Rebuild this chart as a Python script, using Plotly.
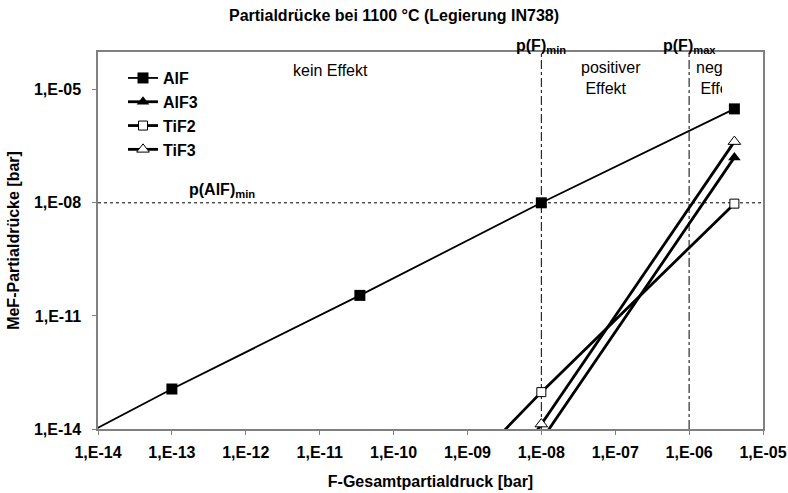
import numpy as np
import plotly.graph_objects as go

# ---------------- data ----------------
x_points = [1e-15, 1.0e-13, 3.5e-11, 1.0e-08, 4.1e-06]
alf = [1e-15, 1.15e-13, 3.5e-11, 1.0e-08, 3.1e-06]

x_ti = [3.5e-11, 1.0e-08, 4.1e-06]
alf3 = [5e-22, 5.0e-15, 1.6e-07]
tif2 = [1e-18, 9.5e-14, 9.5e-09]
tif3 = [1.2e-21, 1.35e-14, 4.2e-07]

x_tick_vals = [1e-14, 1e-13, 1e-12, 1e-11, 1e-10, 1e-09, 1e-08, 1e-07, 1e-06, 1e-05]
x_tick_text = ["1,E-14", "1,E-13", "1,E-12", "1,E-11", "1,E-10", "1,E-09",
               "1,E-08", "1,E-07", "1,E-06", "1,E-05"]
y_tick_vals = [1e-14, 1e-11, 1e-08, 1e-05]
y_tick_text = ["1,E-14", "1,E-11", "1,E-08", "1,E-05"]

p_F_min = 1e-08
p_F_max = 1e-06
p_AlF_min = 1e-08
x_min, x_max = 1e-14, 1e-05
y_min, y_max = 1e-14, 1e-04

FONT = "Liberation Sans, Arial, sans-serif"
FS = 16

fig = go.Figure()

# reference lines
fig.add_trace(go.Scatter(x=[x_min, x_max], y=[p_AlF_min, p_AlF_min], mode="lines",
                         line=dict(color="black", width=1, dash="dot"),
                         showlegend=False, hoverinfo="skip"))
for xv in (p_F_min, p_F_max):
    fig.add_trace(go.Scatter(x=[xv, xv], y=[y_min, y_max], mode="lines",
                             line=dict(color="black", width=1, dash="dashdot"),
                             showlegend=False, hoverinfo="skip"))

# series
fig.add_trace(go.Scatter(x=x_points, y=alf, name="AlF", mode="lines+markers",
                         line=dict(color="black", width=1.8),
                         marker=dict(symbol="square", size=11, color="black")))
fig.add_trace(go.Scatter(x=x_ti, y=alf3, name="AlF3", mode="lines+markers",
                         line=dict(color="black", width=2.8),
                         marker=dict(symbol="triangle-up", size=11, color="black")))
fig.add_trace(go.Scatter(x=x_ti, y=tif2, name="TiF2", mode="lines+markers",
                         line=dict(color="black", width=2.8),
                         marker=dict(symbol="square", size=9, color="white",
                                     line=dict(color="black", width=1))))
fig.add_trace(go.Scatter(x=x_ti, y=tif3, name="TiF3", mode="lines+markers",
                         line=dict(color="black", width=2.8),
                         marker=dict(symbol="triangle-up", size=11, color="white",
                                     line=dict(color="black", width=1))))

lg = np.log10
annotations = [
    dict(x=lg(p_F_min), y=1.0, yref="paper", xref="x", text="<b>p(F)<sub>min</sub></b>",
         showarrow=False, yanchor="bottom", yshift=-6,
         font=dict(family=FONT, size=FS, color="black")),
    dict(x=lg(p_F_max), y=1.0, yref="paper", xref="x", text="<b>p(F)<sub>max</sub></b>",
         showarrow=False, yanchor="bottom", yshift=-6,
         font=dict(family=FONT, size=FS, color="black")),
    dict(x=-10.86, y=-4.48, xref="x", yref="y", text="kein Effekt",
         showarrow=False, font=dict(family=FONT, size=FS, color="black")),
    dict(x=-7.49, y=-4.69, xref="x", yref="y", text="positiver<br> Effekt",
         showarrow=False, xanchor="left", align="left",
         font=dict(family=FONT, size=FS, color="black")),
    # text box of this label is cut off in the original chart
    dict(x=-5.93, y=-4.69, xref="x", yref="y", text="negativer<br> Effekt",
         showarrow=False, xanchor="left", align="left", width=26,
         font=dict(family=FONT, size=FS, color="black")),
    dict(x=-12.8, y=lg(p_AlF_min), xref="x", yref="y",
         text="<b>p(AlF)<sub>min</sub></b>", showarrow=False, yanchor="bottom",
         xanchor="left", yshift=1, font=dict(family=FONT, size=FS, color="black")),
]

axis_common = dict(
    type="log", showgrid=False, zeroline=False, automargin=False,
    showline=True, linecolor="#808080", linewidth=1.5, mirror=True,
    ticks="outside", ticklen=4, tickcolor="#808080",
)

fig.update_layout(
    width=788, height=493,
    margin=dict(l=98, r=25, t=52, b=64, autoexpand=False),
    paper_bgcolor="white", plot_bgcolor="white",
    title=dict(text="<b>Partialdrücke bei 1100 °C (Legierung IN738)</b>",
               x=0.5, xanchor="center", y=1 - 15 / 493, yanchor="middle",
               font=dict(family=FONT, size=FS, color="black")),
    xaxis=dict(axis_common, range=[lg(x_min), lg(x_max)],
               tickvals=x_tick_vals, ticktext=x_tick_text, ticklabelstandoff=4,
               tickfont=dict(family=FONT, size=FS, color="black", weight="bold"),
               title=dict(text="<b>F-Gesamtpartialdruck [bar]</b>", standoff=16,
                          font=dict(family=FONT, size=FS, color="black"))),
    yaxis=dict(axis_common, range=[lg(y_min), lg(y_max)],
               tickvals=y_tick_vals, ticktext=y_tick_text, ticklabelstandoff=8,
               tickfont=dict(family=FONT, size=FS, color="black", weight="bold"),
               title=dict(text="<b>MeF-Partialdrücke [bar]</b>", standoff=10,
                          font=dict(family=FONT, size=FS, color="black"))),
    legend=dict(x=0.0376, y=0.976, xanchor="left", yanchor="top",
                bgcolor="rgba(0,0,0,0)", itemwidth=30,
                font=dict(family=FONT, size=FS, color="black", weight="bold")),
    annotations=annotations,
    hovermode=False,
    showlegend=True,
)

# remove the browser's default body margin so the 788x493 figure fills the window
fig.write_html("out.html",
               config={"displayModeBar": False},
               post_script="document.body.style.margin='0';"
                           "document.documentElement.style.overflow='hidden';")
